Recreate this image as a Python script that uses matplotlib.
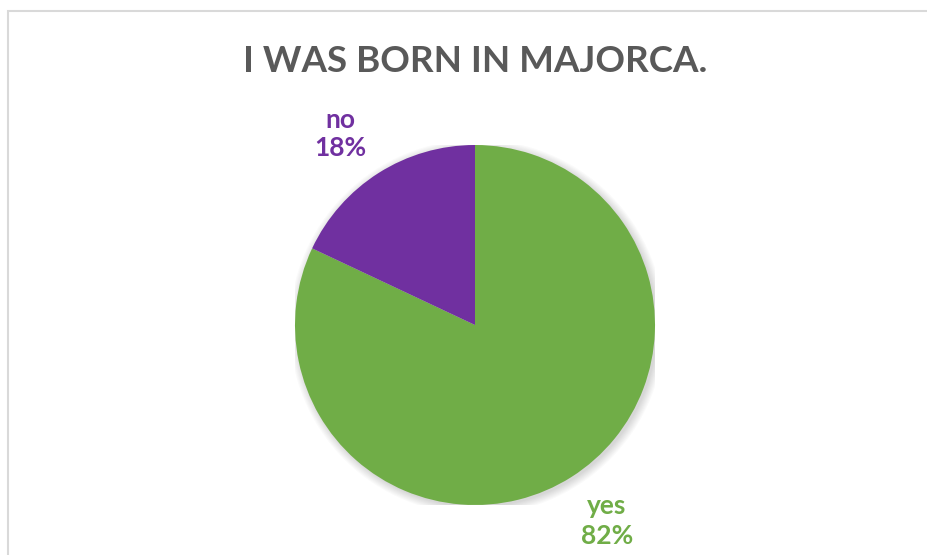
import matplotlib
matplotlib.use("Agg")
import matplotlib.pyplot as plt
from matplotlib.patches import Rectangle, Circle

title = "I WAS BORN IN MAJORCA."
labels = ["yes", "no"]
values = [82, 18]
colors = ["#70AD47", "#7030A0"]

W, H = 928, 555
fig = plt.figure(figsize=(W / 100, H / 100), dpi=100)
fig.patch.set_facecolor("white")

# chart area border (bottom edge runs off the canvas)
fig.patches.append(Rectangle((7.5 / W, -0.05), (W + 5 - 7.5) / W, 1.05 - 10.5 / H,
                             transform=fig.transFigure, fill=False,
                             edgecolor="#D9D9D9", linewidth=1.5))

fig.text(475 / W, 1 - 62 / H, title, ha="center", va="center",
         fontsize=26.5, fontweight="bold", color="#595959", family="Lato")

cx, cy, r = 475, 325, 180
ax = fig.add_axes([(cx - r) / W, (H - cy - r) / H, 2 * r / W, 2 * r / H])

# soft drop shadow
for i in range(8):
    ax.add_patch(Circle((0.012, -0.012), 1.0 + 0.006 * i, color="black",
                        alpha=0.018, lw=0, zorder=0))

wedges, _ = ax.pie(values, colors=colors, startangle=90, counterclock=False,
                   radius=1.0, wedgeprops=dict(linewidth=0))
for w in wedges:
    w.set_zorder(2)

ax.set_xlim(-1, 1)
ax.set_ylim(-1, 1)
ax.set_aspect("equal")
ax.axis("off")

# data labels
label_pos = {"no": (340, 134), "yes": (607, 521)}
for lab, val, col in zip(labels, values, colors):
    x, y = label_pos[lab]
    fig.text(x / W, 1 - y / H, f"{lab}\n{val}%", ha="center", va="center",
             fontsize=19, fontweight="bold", color=col, family="Lato",
             linespacing=1.25)

fig.savefig("out.png", dpi=100, facecolor="white")
